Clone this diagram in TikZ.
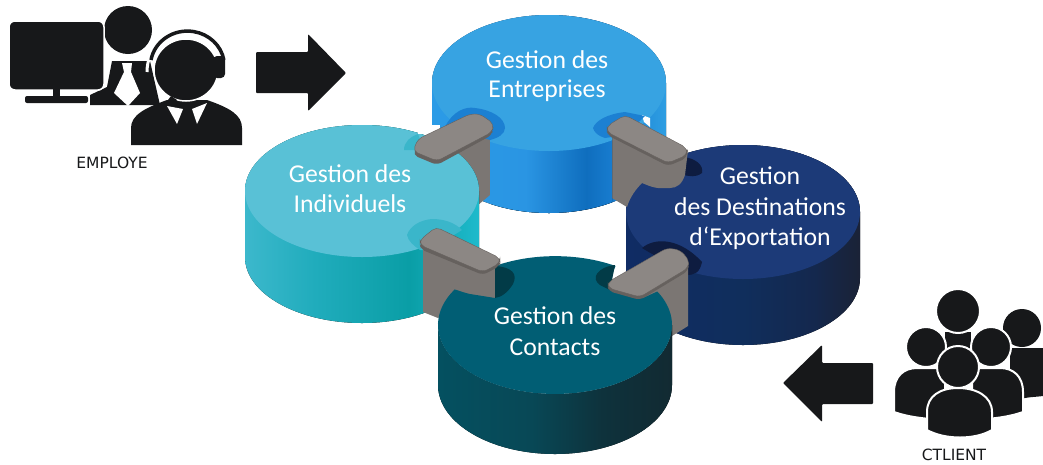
\documentclass[tikz,border=0pt]{standalone}
\usepackage{fontspec}
\setmainfont{Carlito}
\newfontfamily\labelfont{DejaVu Sans}
\definecolor{ink}{HTML}{17181A}
\definecolor{greytop}{HTML}{8C8784}
\definecolor{greywall}{HTML}{7B7673}
\definecolor{greyedge}{HTML}{66615E}
\definecolor{bluetop}{HTML}{37A3E2}
\definecolor{bluenotch}{HTML}{1C80D2}
\definecolor{cyantop}{HTML}{59C1D6}
\definecolor{cyannotch}{HTML}{3AB6CA}
\definecolor{navytop}{HTML}{1C3A78}
\definecolor{navynotch}{HTML}{0E1C40}
\definecolor{tealtop}{HTML}{015E74}
\definecolor{tealnotch}{HTML}{023B47}
\pgfdeclarehorizontalshading{blueside}{100bp}{color(0bp)=(rgb,255:red,43;green,155;blue,230);color(25bp)=(rgb,255:red,43;green,155;blue,230);color(45bp)=(rgb,255:red,42;green,149;blue,227);color(58bp)=(rgb,255:red,15;green,110;blue,190);color(65bp)=(rgb,255:red,26;green,128;blue,212);color(75bp)=(rgb,255:red,46;green,158;blue,226);color(100bp)=(rgb,255:red,46;green,158;blue,226)}
\pgfdeclarehorizontalshading{cyanside}{100bp}{color(0bp)=(rgb,255:red,60;green,184;blue,204);color(25bp)=(rgb,255:red,60;green,184;blue,204);color(40bp)=(rgb,255:red,32;green,172;blue,188);color(60bp)=(rgb,255:red,10;green,158;blue,166);color(75bp)=(rgb,255:red,30;green,186;blue,204);color(100bp)=(rgb,255:red,30;green,186;blue,204)}
\pgfdeclarehorizontalshading{navyside}{100bp}{color(0bp)=(rgb,255:red,16;green,44;blue,100);color(25bp)=(rgb,255:red,16;green,44;blue,100);color(50bp)=(rgb,255:red,16;green,46;blue,92);color(65bp)=(rgb,255:red,20;green,40;blue,78);color(75bp)=(rgb,255:red,26;green,34;blue,54);color(100bp)=(rgb,255:red,26;green,34;blue,54)}
\pgfdeclarehorizontalshading{tealside}{100bp}{color(0bp)=(rgb,255:red,4;green,80;blue,96);color(25bp)=(rgb,255:red,4;green,80;blue,96);color(45bp)=(rgb,255:red,8;green,72;blue,86);color(60bp)=(rgb,255:red,14;green,50;blue,60);color(75bp)=(rgb,255:red,18;green,42;blue,50);color(100bp)=(rgb,255:red,18;green,42;blue,50)}
\newcommand{\cylpath}[4]{(#1-117,#2) -- (#1-117,#2+#3) arc[start angle=180,end angle=0,x radius=117,y radius=#4] -- (#1+117,#2) arc[start angle=0,end angle=-180,x radius=117,y radius=#4] -- cycle}
\newcommand{\toppath}[3]{(#1,#2) ellipse[x radius=117,y radius=#3]}
\tikzset{
  bartop/.style={fill=greytop,draw=greyedge,line width=0.4pt,rounded corners=5pt},
  barlip/.style={fill=greyedge,rounded corners=5pt},
  wallface/.style={fill=greywall},
  disklabel/.style={text=white,font=\fontsize{25.7}{30}\selectfont,inner sep=0pt},
  iconlabel/.style={text=ink,font=\labelfont\fontsize{15.5}{18}\selectfont,inner sep=0pt},
  solid ink/.style={fill=ink},
  gap/.style={fill=ink,draw=white,line width=2pt}
}
\begin{document}
\begin{tikzpicture}[x=1pt,y=-1pt]
\useasboundingbox (0,0) rectangle (1043,464);
\clip (0,0) rectangle (1043,464);
% blue disk
\fill[shading=blueside] \cylpath{549}{83}{62}{68};
\fill[bluetop] \toppath{549}{83}{68};
% navy disk
\fill[shading=navyside] \cylpath{743}{212}{66}{67};
\fill[navytop] \toppath{743}{212}{67};
\fill[navynotch] (642,248) .. controls (655,237) and (680,238) .. (702,262) .. controls (700,272) and (695,275) .. (687,275) -- cycle;
\fill[navynotch] (683,157) .. controls (695,158) and (704,165) .. (702,173) .. controls (695,178) and (690,176) .. (683,175) -- cycle;
% grey wall between blue and navy, biting into navy
\fill[wallface] (607,128) -- (688,150) -- (685,175) .. controls (682,184) and (677,188) .. (670,188) -- (658,188) .. controls (650,187) and (645,184) .. (642,183) .. controls (636,189) and (630,197) .. (627,207) -- (612,198) -- cycle;
\fill[white] (642,115) -- (650,118) -- (650,127) -- (644,122) -- cycle;
% grey wall between blue and cyan
\fill[wallface] (420,150) -- (490,128) -- (490,195) -- (478,205) -- (420,205) -- cycle;
% front of blue, over the walls
\begin{scope}
\clip (490,130) rectangle (612,300);
\fill[shading=blueside] \cylpath{549}{83}{62}{68};
\fill[bluetop] \toppath{549}{83}{68};
\end{scope}
% blue notches
\fill[bluenotch] (445,127) .. controls (452,112) and (465,106) .. (475,108) .. controls (492,110) and (505,118) .. (505,128) .. controls (505,134) and (498,138) .. (490,140) -- cycle;
\fill[bluenotch] (593,128) .. controls (596,120) and (608,114) .. (625,112) -- (645,116) -- (625,135) -- (605,138) .. controls (598,136) and (594,132) .. (593,128) -- cycle;
% cyan disk
\fill[shading=cyanside] \cylpath{362}{191}{66}{66};
\fill[cyantop] \toppath{362}{191}{66};
\fill[white] (418,125) rectangle (440,133.5);
\fill[cyannotch] (404,150) .. controls (404,142) and (410,137) .. (418,134) -- (424,150) -- cycle;
\fill[cyannotch] (407,235) .. controls (410,226) and (420,220) .. (432,219) .. controls (445,219) and (455,223) .. (462,230) -- (430,250) -- (420,250) .. controls (414,246) and (408,241) .. (407,235) -- cycle;
% grey wall between cyan and teal
\fill[wallface] (423,243) -- (495,262) -- (495,302) -- (467,302) -- (438,318) -- (423,312) -- cycle;
% grey wall between teal and navy
\fill[wallface] (640,290) -- (688,262) -- (688,326) -- (672,336) -- (640,336) -- cycle;
% teal disk
\fill[shading=tealside] (438,325) -- (438,385) arc[start angle=180,end angle=0,x radius=117,y radius=69] -- (672,325) arc[start angle=0,end angle=180,x radius=117,y radius=69] -- cycle;
\fill[tealtop] (495,266) arc[start angle=239,end angle=301,x radius=117,y radius=69] -- (608,284) -- (643,298) -- (657.3,291.5) arc[start angle=331,end angle=571,x radius=117,y radius=69] .. controls (460,291) and (465,293) .. (470,294) -- (495,298) -- cycle;
\fill[tealnotch] (495,266) .. controls (512,267) and (518,274) .. (513,284) .. controls (508,292) and (502,297) .. (495,298) -- cycle;
\fill[tealnotch] (615,265) .. controls (598,267) and (590,278) .. (600,285) -- (610,290) -- cycle;
% bars
\fill[barlip] (413,155) -- (418,143) -- (472,118) -- (493,128) -- (492,135) -- (437,165) -- cycle;
\fill[bartop] (413,151) -- (418,139) -- (470,114) -- (480,114) -- (494,124) -- (492,132) -- (437,161) -- cycle;
\fill[barlip] (607,130) -- (625,118) -- (687,150) -- (687,158) -- (668,166) -- (607,135) -- cycle;
\fill[bartop] (607,126) -- (625,115) -- (687,148) -- (687,155) -- (668,163) -- (607,132) -- cycle;
\fill[barlip] (420,244) -- (436,230) -- (500,261) -- (500,266) -- (483,275) -- (420,249) -- cycle;
\fill[bartop] (420,240) -- (436,227) -- (500,258) -- (500,263) -- (483,272) -- (420,245) -- cycle;
\fill[barlip] (608,285) -- (667,251) -- (680,253) -- (689,263) -- (688,271) -- (640,300) -- (608,291) -- cycle;
\fill[bartop] (608,282) -- (667,248) -- (680,250) -- (689,260) -- (688,268) -- (640,297) -- (608,288) -- cycle;
% disk labels
\node[disklabel] (bl1) at (547,60) {Gestion des};
\node[disklabel] (bl2) at (547,91) {Entreprises};
\node[disklabel] (cy1) at (350,174) {Gestion des};
\node[disklabel] (cy2) at (350,204) {Individuels};
\node[disklabel] (na1) at (760,176) {Gestion};
\node[disklabel] (na2) at (760,207) {des Destinations};
\node[disklabel] (na3) at (760,238) {d‘Exportation};
\node[disklabel] (te1) at (555,316) {Gestion des};
\node[disklabel] (te2) at (555,347) {Contacts};
% arrows
\fill[solid ink,rounded corners=1pt] (256,52) -- (308,52) -- (308,34) -- (346,73) -- (308,111) -- (308,93) -- (256,93) -- cycle;
\fill[solid ink,rounded corners=1pt] (873,363) -- (822,363) -- (822,345) -- (783,383) -- (822,422) -- (822,404) -- (873,404) -- cycle;
% employee icon: back person
\fill[solid ink] (128,30) circle[radius=24];
\fill[solid ink] (112,61) -- (150,61) -- (160,105) -- (90,105) -- (90,95) -- (107,87) -- cycle;
\fill[white] (122,63) -- (132,63) -- (131,72) -- (140,93) -- (128,106) -- (114,93) -- (124,72) -- cycle;
% monitor
\fill[solid ink,draw=white,line width=1.5pt,rounded corners=6pt] (9,21) rectangle (104,90);
\fill[solid ink] (53,88) rectangle (60,97);
\fill[solid ink,rounded corners=2pt] (25,96) rectangle (88,103);
% front person
\fill[solid ink] (131,145) -- (131,128) .. controls (131,115) and (145,108) .. (167,100) -- (207,100) .. controls (230,108) and (242,115) .. (242,128) -- (242,145) -- cycle;
\fill[white] (167,106) -- (177,124) -- (183,109) -- cycle;
\fill[white] (192,109) -- (197,124) -- (207,103) -- cycle;
\draw[white,line width=3pt] (147,72) arc[start angle=180,end angle=360,x radius=40,y radius=42];
\fill[solid ink,draw=white,line width=1.5pt] (186,70) ellipse[x radius=32,y radius=31];
\draw[ink,line width=3.5pt] (151,60) arc[start angle=190,end angle=350,x radius=37,y radius=35];
\fill[solid ink,rounded corners=4pt] (213,56) rectangle (225,78);
\fill[solid ink] (171,96) -- (177,100) -- (173,104) -- (168,100) -- cycle;
\node[iconlabel] (emp) at (112,163) {EMPLOYE};
% client icon
\fill[solid ink] (1010,348) -- (1043,348) -- (1043,396) .. controls (1035,397) and (1030,397) .. (1025,398) -- (1010,398) -- cycle;
\fill[solid ink] (1022,328) circle[radius=19];
\fill[solid ink] (945,332) rectangle (971,352);
\fill[gap] (958,311) circle[radius=22];
\fill[gap] (894,412) -- (894,392) .. controls (894,376) and (904,368) .. (917,368) -- (945,368) -- (945,420) .. controls (925,419) and (908,417) .. (894,412) -- cycle;
\fill[gap] (1023,412) -- (1023,392) .. controls (1023,376) and (1013,368) .. (1000,368) -- (972,368) -- (972,420) .. controls (992,419) and (1009,417) .. (1023,412) -- cycle;
\fill[gap] (926,347) circle[radius=20];
\fill[gap] (991,347) circle[radius=20];
\fill[gap] (927,430) -- (927,412) .. controls (927,396) and (940,388) .. (958,388) .. controls (976,388) and (992,396) .. (992,412) -- (992,430) .. controls (975,440) and (945,440) .. (927,430) -- cycle;
\fill[gap] (958,367) circle[radius=21];
\node[iconlabel] (cli) at (954,455) {CTLIENT};
\end{tikzpicture}
\end{document}
